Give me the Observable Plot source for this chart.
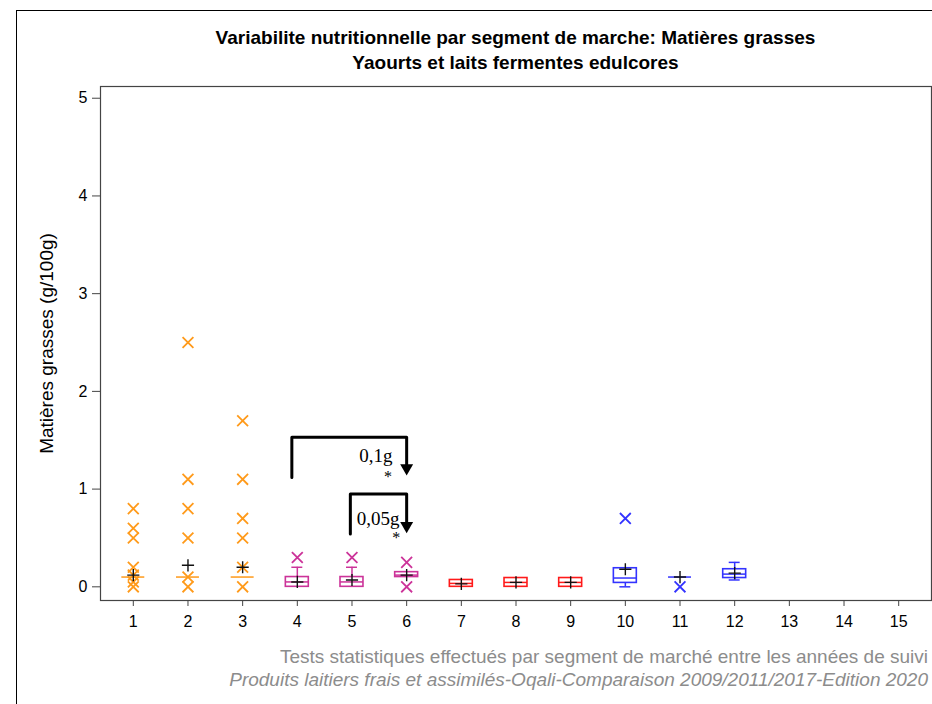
<!DOCTYPE html>
<html>
<head>
<meta charset="utf-8">
<script src="https://cdn.jsdelivr.net/npm/d3@7"></script>
<script src="https://cdn.jsdelivr.net/npm/@observablehq/plot@0.6"></script>
<style>
  body { margin: 0; background: #fff; }
  #wrap { position: relative; width: 932px; height: 704px; overflow: hidden; background: #fff; font-family: "Liberation Sans", Arial, sans-serif; }
  #border { position: absolute; left: 16px; top: 10px; width: 1000px; height: 1000px; border: 1.5px solid #000; box-sizing: border-box; }
  .title { position: absolute; left: 100px; width: 831px; text-align: center; font-weight: bold; font-size: 19px; line-height: 22px; color: #000; }
  .foot { position: absolute; right: 4px; font-size: 19px; line-height: 22px; color: #8c8c8c; white-space: nowrap; }
  #chart { position: absolute; left: 0; top: 0; }
</style>
</head>
<body>
<div id="wrap">
  <div id="border"></div>
  <div class="title" style="top:27px">Variabilite nutritionnelle par segment de marche: Matières grasses</div>
  <div class="title" style="top:52px">Yaourts et laits fermentes edulcores</div>
  <div id="chart"></div>
  <div class="foot" style="top:646px">Tests statistiques effectués par segment de marché entre les années de suivi</div>
  <div class="foot" style="top:669px;font-style:italic">Produits laitiers frais et assimilés-Oqali-Comparaison 2009/2011/2017-Edition 2020</div>
</div>
<script>
// ---- data ----
const segments = [1, 2, 3, 4, 5, 6, 7, 8, 9, 10, 11, 12];
const families = ["A", "A", "A", "B", "B", "B", "C", "C", "C", "D", "D", "D"];
const q1Values     = [0.10, 0.10, 0.10, 0.00, 0.00, 0.10, 0.00, 0.00, 0.00, 0.04, 0.10, 0.09];
const medianValues = [0.10, 0.10, 0.10, 0.05, 0.05, 0.12, 0.035, 0.045, 0.045, 0.09, 0.10, 0.13];
const q3Values     = [0.10, 0.10, 0.10, 0.10, 0.10, 0.15, 0.07, 0.09, 0.09, 0.19, 0.10, 0.18];
const whiskLow     = [0.10, 0.10, 0.10, 0.00, 0.00, 0.10, 0.00, 0.00, 0.00, 0.00, 0.10, 0.07];
const whiskHigh    = [0.10, 0.10, 0.10, 0.20, 0.20, 0.15, 0.07, 0.09, 0.09, 0.19, 0.10, 0.25];
const meanValues   = [0.12, 0.22, 0.20, 0.05, 0.07, 0.12, 0.03, 0.045, 0.045, 0.18, 0.10, 0.14];

const outlierSeg   = [1, 1, 1, 1, 1, 1, 1, 2, 2, 2, 2, 2, 2, 3, 3, 3, 3, 3, 3, 4, 5, 6, 6, 10, 11];
const outlierValue = [0.8, 0.6, 0.5, 0.2, 0.12, 0.05, 0, 2.5, 1.1, 0.8, 0.5, 0.1, 0, 1.7, 1.1, 0.7, 0.5, 0.2, 0, 0.3, 0.3, 0.25, 0, 0.7, 0];

const xTicks = [1, 2, 3, 4, 5, 6, 7, 8, 9, 10, 11, 12, 13, 14, 15];
const yTicks = [0, 1, 2, 3, 4, 5];
const yLabel = "Matières grasses (g/100g)";

// significance brackets (data units)
const bracket1X = [3.9, 3.9, 6.0, 6.0];
const bracket1Y = [1.12, 1.53, 1.53, 1.22];
const bracket2X = [4.97, 4.97, 6.0, 6.0];
const bracket2Y = [0.54, 0.95, 0.95, 0.63];
const arrowX = [6.0, 6.0];
const arrowY = [1.215, 0.625];
const labelText = ["0,1g", "0,05g"];
const labelX = [5.74, 5.87];
const labelY = [1.342, 0.697];
const starX = [5.66, 5.81];
const starY = [1.127, 0.50];

// ---- tables ----
const boxes = segments.map((s, i) => ({
  seg: s, fam: families[i], q1: q1Values[i], med: medianValues[i], q3: q3Values[i],
  lo: whiskLow[i], hi: whiskHigh[i], mean: meanValues[i]
}));
const points = outlierSeg.map((s, i) => ({seg: s, fam: families[segments.indexOf(s)], v: outlierValue[i]}));
const br1 = bracket1X.map((x, i) => ({x, y: bracket1Y[i]}));
const br2 = bracket2X.map((x, i) => ({x, y: bracket2Y[i]}));
const arrows = arrowX.map((x, i) => ({x, y: arrowY[i]}));
const labels = labelText.map((t, i) => ({t, x: labelX[i], y: labelY[i]}));
const stars = starX.map((x, i) => ({t: "*", x, y: starY[i]}));

const hw = 0.21, cw = 0.1;

const chart = Plot.plot({
  width: 932,
  height: 704,
  marginTop: 86,
  marginBottom: 104,
  marginLeft: 100,
  marginRight: 1,
  style: {fontFamily: "'Liberation Sans', Arial, sans-serif", fontSize: "16px", color: "#000", background: "transparent"},
  x: {type: "linear", domain: [0.4, 15.6]},
  y: {domain: [-0.14, 5.12]},
  color: {type: "ordinal", domain: ["A", "B", "C", "D"], range: ["#ff9a1a", "#cc3399", "#ff1a1a", "#3333ff"]},
  marks: [
    Plot.frame({stroke: "#444", strokeWidth: 1.2}),
    Plot.axisX({ticks: xTicks, tickSize: 6, tickPadding: 9, tickFormat: d => String(d), label: null, stroke: "#444"}),
    Plot.axisY({ticks: yTicks, tickSize: 8, tickPadding: 5, tickFormat: d => String(d), label: null, stroke: "#444"}),
    Plot.text([yLabel], {frameAnchor: "left", dx: -54, rotate: -90, textAnchor: "middle", lineAnchor: "middle", fontSize: 19, fill: "#000", text: d => d}),
    // whiskers
    Plot.ruleX(boxes.filter(d => d.hi > d.q3), {x: "seg", y1: "q3", y2: "hi", stroke: "fam", strokeWidth: 1.5}),
    Plot.ruleX(boxes.filter(d => d.lo < d.q1), {x: "seg", y1: "lo", y2: "q1", stroke: "fam", strokeWidth: 1.5}),
    Plot.ruleY(boxes.filter(d => d.hi > d.q3), {y: "hi", x1: d => d.seg - cw, x2: d => d.seg + cw, stroke: "fam", strokeWidth: 1.5}),
    Plot.ruleY(boxes.filter(d => d.lo < d.q1), {y: "lo", x1: d => d.seg - cw, x2: d => d.seg + cw, stroke: "fam", strokeWidth: 1.5}),
    // boxes
    Plot.rect(boxes.filter(d => d.q3 > d.q1), {x1: d => d.seg - hw, x2: d => d.seg + hw, y1: "q1", y2: "q3", stroke: "fam", fill: "none", strokeWidth: 1.6}),
    Plot.ruleY(boxes, {y: "med", x1: d => d.seg - hw, x2: d => d.seg + hw, stroke: "fam", strokeWidth: 1.5}),
    // outliers
    Plot.dot(points, {x: "seg", y: "v", symbol: "times", stroke: "fam", r: 5, strokeWidth: 1.8}),
    // means
    Plot.dot(boxes, {x: "seg", y: "mean", symbol: "plus", stroke: "#111", r: 4, strokeWidth: 1.4}),
    // brackets
    Plot.line(br1, {x: "x", y: "y", stroke: "#000", strokeWidth: 3, strokeLinejoin: "round", curve: "linear"}),
    Plot.line(br2, {x: "x", y: "y", stroke: "#000", strokeWidth: 3, strokeLinejoin: "round", curve: "linear"}),
    Plot.dot(arrows, {x: "x", y: "y", symbol: "triangle", rotate: 180, fill: "#000", stroke: null, r: 4.8}),
    Plot.text(labels, {x: "x", y: "y", text: "t", textAnchor: "end", lineAnchor: "middle", fontFamily: "'Liberation Serif', 'Times New Roman', serif", fontSize: 19, fill: "#000"}),
    Plot.text(stars, {x: "x", y: "y", text: "t", textAnchor: "middle", lineAnchor: "middle", fontFamily: "'Liberation Serif', 'Times New Roman', serif", fontSize: 16, fill: "#000"})
  ]
});
document.getElementById("chart").appendChild(chart);
</script>
</body>
</html>
